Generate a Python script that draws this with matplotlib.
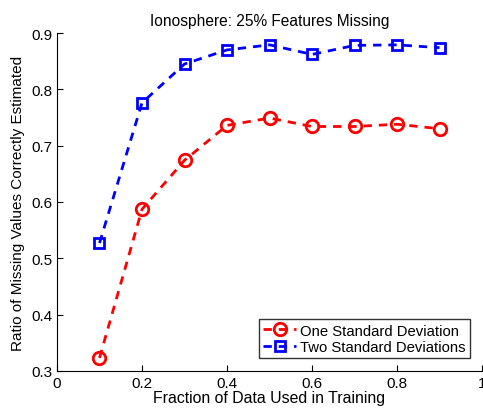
import matplotlib.pyplot as plt

plt.rcParams['font.family'] = ['Liberation Sans', 'DejaVu Sans']

fractions = [0.1, 0.2, 0.3, 0.4, 0.5, 0.6, 0.7, 0.8, 0.9]
one_std = [0.323, 0.587, 0.674, 0.736, 0.749, 0.734, 0.734, 0.738, 0.730]
two_std = [0.527, 0.776, 0.845, 0.870, 0.879, 0.862, 0.878, 0.879, 0.874]

fig = plt.figure(figsize=(4.83, 4.10), dpi=100)
ax = fig.add_axes([0.118, 0.093, 0.88, 0.824])

ax.plot(fractions, one_std, 'r--o', lw=2, ms=9, mew=2, mfc='none',
        dashes=(3, 2.5), label='One Standard Deviation')
ax.plot(fractions, two_std, 'b--s', lw=2, ms=7, mew=2, mfc='none',
        dashes=(3, 2.5), label='Two Standard Deviations')

ax.set_xlim(0, 1)
ax.set_ylim(0.3, 0.9)
ax.set_xticks([0, 0.2, 0.4, 0.6, 0.8, 1])
ax.set_xticklabels(['0', '0.2', '0.4', '0.6', '0.8', '1'])
ax.set_yticks([0.3, 0.4, 0.5, 0.6, 0.7, 0.8, 0.9])
ax.tick_params(direction='in', labelsize=11, length=4)
ax.spines['top'].set_visible(False)
ax.spines['right'].set_visible(False)

ax.set_title('Ionosphere: 25% Features Missing', fontsize=11.2)
ax.set_xlabel('Fraction of Data Used in Training', fontsize=11.4, labelpad=0.5)
ax.set_ylabel('Ratio of Missing Values Correctly Estimated', fontsize=11)

leg = ax.legend(loc='lower right', fontsize=10.7, fancybox=False, edgecolor='black',
                handlelength=2.2, handletextpad=0.3, borderpad=0.3, labelspacing=0.15,
                bbox_to_anchor=(0.99, 0.015))
leg.get_frame().set_linewidth(1)

fig.savefig('out.png', dpi=100)
